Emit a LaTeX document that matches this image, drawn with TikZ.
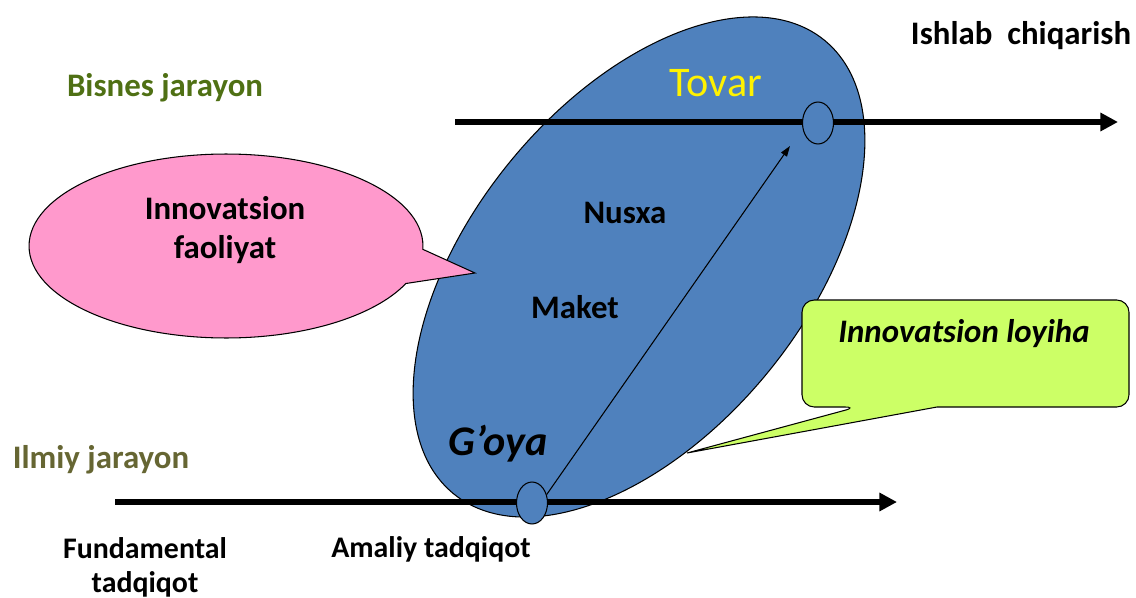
\documentclass[tikz,border=0pt]{standalone}
\usepackage{fontspec}
\setmainfont{Carlito}
\usetikzlibrary{shapes.geometric,shapes.callouts,arrows.meta}
\definecolor{ovalblue}{RGB}{79,129,189}
\definecolor{pinkfill}{RGB}{255,153,204}
\definecolor{limefill}{RGB}{204,255,102}
\definecolor{bisgreen}{RGB}{79,112,20}
\definecolor{ilmolive}{RGB}{102,102,51}

\begin{document}
\begin{tikzpicture}[x=0.02cm,y=-0.02cm,
	lbl/.style={font=\bfseries\fontsize{18.7}{22}\selectfont, anchor=base, inner sep=0pt},
	lbli/.style={lbl, font=\bfseries\itshape\fontsize{18.7}{22}\selectfont},
	lblsmall/.style={lbl, font=\bfseries\fontsize{17}{19.3}\selectfont},
	proc/.style={line width=3pt, -{Triangle[length=10pt,width=10pt]}},
	dot/.style={ellipse, draw=black, line width=0.6pt, fill=ovalblue, minimum width=0.62cm, minimum height=0.84cm, inner sep=0pt}]

	\useasboundingbox (0,0) rectangle (1136,598);

	\node (oval) [ellipse, draw, line width=0.6pt, fill=ovalblue, minimum width=11.72cm, minimum height=6.66cm, rotate=50.7, inner sep=0pt] at (639,267) {};

	\coordinate (bisA) at (455,122);
	\coordinate (bisB) at (1118,122);
	\coordinate (ilmA) at (115,502);
	\coordinate (ilmB) at (897,502);
	\draw [proc] (bisA) -- (bisB);
	\draw [proc] (ilmA) -- (ilmB);

	\node (tovarpt) [dot] at (818,123) {};
	\node (goyapt) [dot] at (532,503) {};
	\coordinate (tip) at (790,146);
	\draw [-{Triangle[length=6pt,width=4pt]}, line width=0.6pt] (goyapt.30) -- (tip);

	% callouts
	\node (faol) [ellipse callout, draw, line width=0.6pt, fill=pinkfill, minimum width=7.88cm, minimum height=3.68cm, inner sep=0pt, callout absolute pointer={(475,273)}, callout pointer arc=22] at (226,246) {};
	\draw [fill=limefill, line width=0.6pt, rounded corners=7pt] (937,407) -- (1129,407) -- (1129,300) -- (802,300) -- (802,407) -- (857,407) [sharp corners] -- (687,453) -- cycle;

	\node (faoltxt) [lbl, align=center] at (225,258) {Innovatsion\\faoliyat};
	\node (loyiha) [lbli] at (964,342) {Innovatsion loyiha};

	\node (bisnes) [lbl, text=bisgreen] at (165,97) {Bisnes jarayon};
	\node (ishlab) [lbl] at (1021,45) {Ishlab\ \ chiqarish};
	\node (tovar) [anchor=base, inner sep=0pt, text=yellow, font=\fontsize{24}{28}\selectfont] at (716,97) {Tovar};
	\node (nusxa) [lbl] at (625,223) {Nusxa};
	\node (maket) [lbl] at (575,318) {Maket};
	\node (goya) [anchor=base, inner sep=0pt, font=\bfseries\itshape\fontsize{24}{28}\selectfont] at (498,455) {G’oya};
	\node (ilmiy) [lbl, text=ilmolive] at (101,468) {Ilmiy jarayon};
	\node (fund) [lblsmall, align=center] at (145,592) {Fundamental\\tadqiqot};
	\node (amaliy) [lblsmall] at (431,557) {Amaliy tadqiqot};

\end{tikzpicture}
\end{document}
